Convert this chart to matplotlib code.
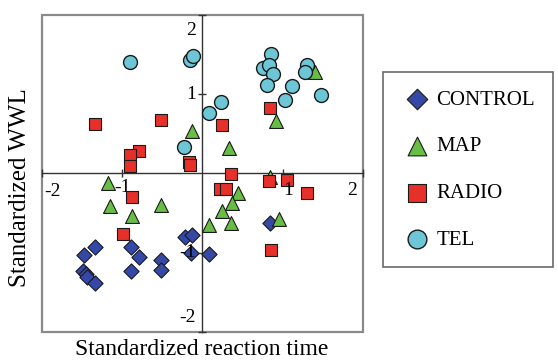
import matplotlib
matplotlib.use("Agg")
import matplotlib.pyplot as plt
from matplotlib.patches import Rectangle

plt.rcParams['font.family'] = ['Liberation Serif', 'DejaVu Serif']

# standardized reaction time (x) and standardized WWL (y)
control_x = [-0.22, -0.13, -0.14, 0.08, 0.84, -1.33, -1.47, -0.89, -0.79, -0.52,
             -0.51, -0.89, -1.49, -1.45, -1.43, -1.33]
control_y = [-0.80, -0.78, -1.00, -1.02, -0.62, -0.93, -1.03, -0.93, -1.05, -1.09,
             -1.22, -1.23, -1.23, -1.27, -1.31, -1.38]

map_x = [1.40, 0.92, -0.13, 0.33, 0.84, 0.44, 0.37, 0.25, 0.08, 0.36, 0.95,
         -1.17, -1.15, -0.88, -0.51]
map_y = [1.28, 0.66, 0.53, 0.32, -0.05, -0.25, -0.37, -0.47, -0.65, -0.63, -0.57,
         -0.12, -0.41, -0.54, -0.40]

radio_x = [-1.33, -0.52, -0.79, -0.90, -0.90, -0.17, -0.15, 0.84, 0.25, 0.36,
           0.83, 1.05, 1.30, 0.22, 0.29, -0.88, -0.99, 0.86]
radio_y = [0.62, 0.67, 0.28, 0.23, 0.10, 0.14, 0.11, 0.83, 0.61, -0.01,
           -0.10, -0.08, -0.25, -0.19, -0.20, -0.30, -0.76, -0.97]

tel_x = [-0.90, -0.15, -0.11, 0.08, -0.23, 0.86, 0.76, 0.83, 0.88, 0.81, 1.12,
         1.03, 1.48, 1.30, 1.28, 0.23]
tel_y = [1.41, 1.43, 1.48, 0.76, 0.33, 1.51, 1.33, 1.37, 1.25, 1.12, 1.10,
         0.93, 0.99, 1.37, 1.28, 0.90]

fig = plt.figure(figsize=(5.58, 3.63), dpi=100)
ax = fig.add_axes([0.0747, 0.0854, 0.5758, 0.8733])

edge = '#1a1a1a'
ax.scatter(control_x, control_y, marker='D', s=60, c='#3448a8', edgecolors=edge,
           linewidths=0.8, label='CONTROL', zorder=3)
ax.scatter(map_x, map_y, marker='^', s=100, c='#68be45', edgecolors=edge,
           linewidths=0.8, label='MAP', zorder=3)
ax.scatter(radio_x, radio_y, marker='s', s=85, c='#e8302a', edgecolors=edge,
           linewidths=0.8, label='RADIO', zorder=3)
ax.scatter(tel_x, tel_y, marker='o', s=100, c='#6cc6d6', edgecolors=edge,
           linewidths=1.0, label='TEL', zorder=3)

ax.set_xlim(-2, 2)
ax.set_ylim(-2, 2)

# axes crossing at zero, outer frame in grey
ax.spines['left'].set_position(('data', 0))
ax.spines['bottom'].set_position(('data', 0))
ax.spines['top'].set_visible(False)
ax.spines['right'].set_visible(False)
for s in ['left', 'bottom']:
    ax.spines[s].set_color('#333333')
    ax.spines[s].set_linewidth(1.0)
ax.add_patch(Rectangle((0, 0), 1, 1, transform=ax.transAxes, fill=False,
                       edgecolor='#8a8a8a', linewidth=1.6, clip_on=False))

ax.set_xticks([-2, -1, 1, 2])
ax.set_yticks([-2, -1, 1, 2])
ax.tick_params(direction='inout', length=6, width=1, color='#333333',
               labelbottom=False, labelleft=False)

fs = 14
# tick labels drawn as text, like the original
for v, lab in [(1, '1'), (-1, '-1')]:
    ax.text(-0.08, v, lab, ha='right', va='center', fontsize=fs)
ax.text(-0.08, 1.8, '2', ha='right', va='center', fontsize=fs)
ax.text(-0.08, -1.82, '-2', ha='right', va='center', fontsize=fs)
ax.text(-1.86, -0.23, '-2', ha='center', va='center', fontsize=fs)
ax.text(-1.0, -0.18, '-1', ha='center', va='center', fontsize=fs, zorder=2)
ax.text(1.07, -0.22, '1', ha='center', va='center', fontsize=fs)
ax.text(1.87, -0.22, '2', ha='center', va='center', fontsize=fs)

fig.text(0.3615, 0.036, 'Standardized reaction time', ha='center', va='center',
         fontsize=17)
fig.text(0.036, 0.482, 'Standardized WWL', ha='center', va='center',
         rotation=90, fontsize=18)

leg = fig.legend(loc='center', bbox_to_anchor=(0.839, 0.532), fontsize=15,
                 frameon=True, fancybox=False, edgecolor='#444444',
                 labelspacing=1.3, handletextpad=0.2, borderpad=0.85,
                 handlelength=1.5, borderaxespad=0, markerscale=1.35)
leg.get_frame().set_linewidth(1.2)

fig.savefig('out.png', dpi=100)
